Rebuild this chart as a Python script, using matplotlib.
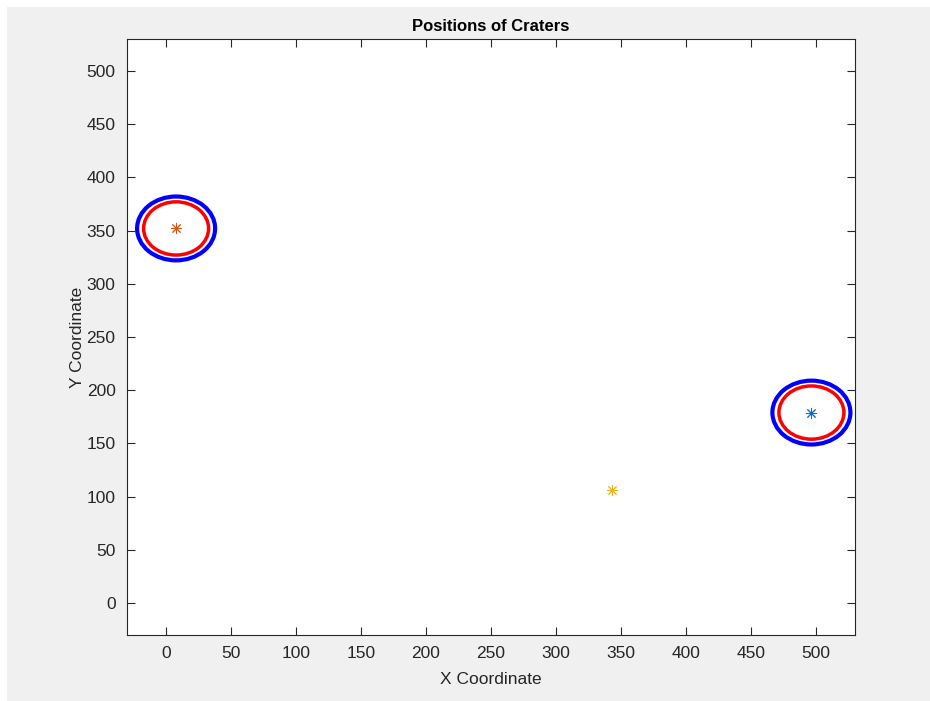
import numpy as np
import matplotlib
matplotlib.use("Agg")
import matplotlib.pyplot as plt
from matplotlib.patches import Circle, Rectangle

plt.rcParams['font.family'] = ['Liberation Sans', 'DejaVu Sans']

# Data
crater_x = [496.7, 8.0, 343.5]
crater_y = [179.0, 352.0, 106.0]
marker_colors = ['#0072BD', '#D95319', '#EDB120']
ringed_idx = [0, 1]
inner_radius = 25
outer_radius = 30
xticks = list(range(0, 501, 50))
yticks = list(range(0, 501, 50))

fig = plt.figure(figsize=(9.30, 7.01), dpi=100, facecolor='#f0f0f0')
# white strips at top and left edges of the screenshot
fig.patches.append(Rectangle((0, 1 - 7/701), 1, 7/701, transform=fig.transFigure,
                             facecolor='white', edgecolor='none', zorder=-10))
fig.patches.append(Rectangle((0, 0), 7/930, 1, transform=fig.transFigure,
                             facecolor='white', edgecolor='none', zorder=-10))

ax = fig.add_axes([126.7/930, (701-635)/701, (854.7-126.7)/930, (635-39)/701])
ax.set_facecolor('white')

for i in ringed_idx:
    ax.add_patch(Circle((crater_x[i], crater_y[i]), outer_radius, fill=False,
                        edgecolor='#0000ff', linewidth=3.0))
    ax.add_patch(Circle((crater_x[i], crater_y[i]), inner_radius, fill=False,
                        edgecolor='#ff0000', linewidth=2.5))

for x, y, c in zip(crater_x, crater_y, marker_colors):
    ax.plot([x], [y], linestyle='none', marker=(8, 2, 0), markersize=8,
            markeredgewidth=0.7, color=c)

ax.set_xlim(-30, 530)
ax.set_ylim(-30, 530)
ax.set_xticks(xticks)
ax.set_yticks(yticks)

edge = '#262626'
for s in ax.spines.values():
    s.set_color(edge)
    s.set_linewidth(0.8)
ax.tick_params(direction='in', length=6, width=0.8, colors=edge,
               labelsize=12.5, top=True, right=True, pad=8)
for lab in ax.get_xticklabels() + ax.get_yticklabels():
    lab.set_color('#262626')

ax.set_title('Positions of Craters', fontsize=12, fontweight='bold', pad=6)
ax.set_xlabel('X Coordinate', fontsize=12.5, color='#262626', labelpad=8)
ax.set_ylabel('Y Coordinate', fontsize=12.5, color='#262626', labelpad=1)

fig.savefig('out.png', dpi=100, facecolor=fig.get_facecolor())
